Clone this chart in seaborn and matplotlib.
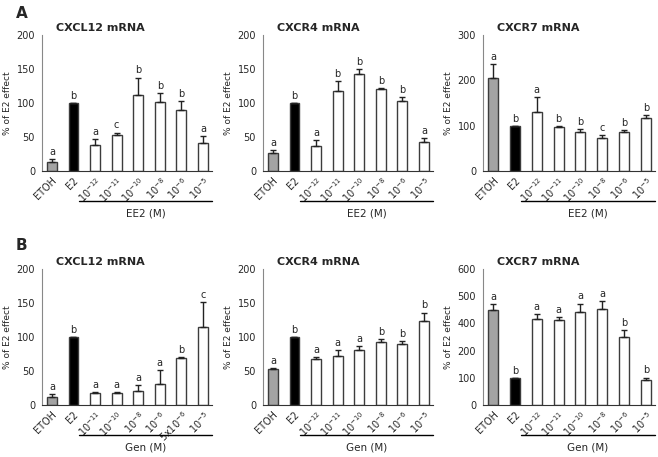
import numpy as np
import pandas as pd
import seaborn as sns
import matplotlib.pyplot as plt

# -----------------------------------------------------------------------------
# Data (% of E2 effect, mean and upper SEM)
# -----------------------------------------------------------------------------
EE2_DOSES = ["ETOH", "E2", r"$10^{-12}$", r"$10^{-11}$", r"$10^{-10}$",
             r"$10^{-8}$", r"$10^{-6}$", r"$10^{-5}$"]
GEN_DOSES_CXCL12 = ["ETOH", "E2", r"$10^{-11}$", r"$10^{-10}$", r"$10^{-8}$",
                    r"$10^{-6}$", r"5x$10^{-6}$", r"$10^{-5}$"]
GEN_DOSES = EE2_DOSES

A_CXCL12_MEAN = [13, 100, 38, 52.5, 112.5, 101.5, 90, 41.5]
A_CXCL12_SEM = [5, 0, 9, 4, 25, 12.5, 13.5, 10]
A_CXCL12_LET = ["a", "b", "a", "c", "b", "b", "b", "a"]

A_CXCR4_MEAN = [26, 100, 37.5, 118, 142, 121, 103, 42.5]
A_CXCR4_SEM = [5, 0, 7.5, 14, 8.5, 1.5, 6, 6.5]
A_CXCR4_LET = ["a", "b", "a", "b", "b", "b", "b", "a"]

A_CXCR7_MEAN = [206, 100, 130, 96.5, 86, 72, 85, 116]
A_CXCR7_SEM = [29, 0, 33, 2, 6, 7.5, 6, 8]
A_CXCR7_LET = ["a", "b", "a", "b", "b", "c", "b", "b"]

B_CXCL12_MEAN = [11.5, 100, 17.5, 17, 21, 31, 69, 115]
B_CXCL12_SEM = [5, 0, 2, 2.5, 8.5, 20, 1, 36]
B_CXCL12_LET = ["a", "b", "a", "a", "a", "a", "b", "c"]

B_CXCR4_MEAN = [52.5, 100, 67, 72, 81, 92, 89, 124]
B_CXCR4_SEM = [1.5, 0, 4, 9, 6, 5, 5, 12]
B_CXCR4_LET = ["a", "b", "a", "a", "a", "b", "b", "b"]

B_CXCR7_MEAN = [350, 100, 315, 311, 343, 352, 250, 92]
B_CXCR7_SEM = [22, 0, 18, 12, 30, 29, 24, 9]
B_CXCR7_LET = ["a", "b", "a", "a", "a", "a", "b", "b"]

# y-axis tick values / labels (the original B CXCR7 axis is labelled as printed)
TICKS_200 = [0, 50, 100, 150, 200]
TICKS_300 = [0, 100, 200, 300]
TICKS_B7 = [0, 100, 200, 300, 400, 500]
TICKLABELS_B7 = ["0", "100", "200", "400", "500", "600"]

# -----------------------------------------------------------------------------
# Helpers
# -----------------------------------------------------------------------------
FILL = {0: "#a3a3a3", 1: "black"}


def draw_panel(fig, rect, title, doses, means, sems, letters, ticks,
               ticklabels, group):
    ax = fig.add_axes(rect)
    df = pd.DataFrame({"dose": doses, "mean": means})
    pal = {d: FILL.get(i, "white") for i, d in enumerate(doses)}
    sns.barplot(data=df, x="dose", y="mean", hue="dose", order=doses,
                palette=pal, legend=False, width=0.46, ax=ax,
                edgecolor="#3c3c3c", linewidth=1)
    x = np.arange(len(doses))
    ax.errorbar(x, means, yerr=[np.zeros(len(sems)), sems], fmt="none",
                ecolor="#222222", elinewidth=1, capsize=2.5, capthick=1)
    for xi, m, s, let in zip(x, means, sems, letters):
        ax.annotate(let, (xi, m + s), xytext=(0, 1.5),
                    textcoords="offset points", ha="center", va="bottom",
                    fontsize=7)

    ax.set_xlim(-0.46, 7.42)
    ax.set_ylim(ticks[0], ticks[-1])
    ax.set_yticks(ticks)
    ax.set_yticklabels(ticklabels if ticklabels else [str(t) for t in ticks],
                       fontsize=7)
    ax.set_xticks(x)
    ax.set_xticklabels(doses, rotation=45, ha="right",
                       rotation_mode="anchor", fontsize=7)
    ax.tick_params(axis="x", length=0, pad=3)
    ax.tick_params(axis="y", length=3, width=1, color="#888888", pad=2)
    ax.set_xlabel("")
    ax.set_ylabel("% of E2 effect", fontsize=6.5, labelpad=3)

    for side in ["top", "right"]:
        ax.spines[side].set_visible(False)
    ax.spines["left"].set_color("#888888")
    ax.spines["bottom"].set_color("#333333")

    ax.text(0.08, 1.05, title, transform=ax.transAxes, fontsize=8,
            fontweight="bold", ha="left", va="center")

    # dose group bracket under the tick labels
    ax.plot([0.22, 1.0], [-0.22, -0.22], transform=ax.transAxes,
            color="black", lw=1, clip_on=False)
    ax.text(0.61, -0.31, group, transform=ax.transAxes, fontsize=7.5,
            ha="center", va="center")
    return ax


# -----------------------------------------------------------------------------
# Figure
# -----------------------------------------------------------------------------
sns.set_style("white")
plt.rcParams["font.family"] = ["DejaVu Sans"]

fig = plt.figure(figsize=(6.58, 4.57), dpi=100)

W, H = 658.0, 457.0
LEFTS = [42, 263, 483]
WIDTHS = [170, 170, 172]
ROW_BOTTOMS = [171, 405]
AX_H = 136

panels = [
    ("CXCL12 mRNA", EE2_DOSES, A_CXCL12_MEAN, A_CXCL12_SEM, A_CXCL12_LET,
     TICKS_200, None, "EE2 (M)"),
    ("CXCR4 mRNA", EE2_DOSES, A_CXCR4_MEAN, A_CXCR4_SEM, A_CXCR4_LET,
     TICKS_200, None, "EE2 (M)"),
    ("CXCR7 mRNA", EE2_DOSES, A_CXCR7_MEAN, A_CXCR7_SEM, A_CXCR7_LET,
     TICKS_300, None, "EE2 (M)"),
    ("CXCL12 mRNA", GEN_DOSES_CXCL12, B_CXCL12_MEAN, B_CXCL12_SEM,
     B_CXCL12_LET, TICKS_200, None, "Gen (M)"),
    ("CXCR4 mRNA", GEN_DOSES, B_CXCR4_MEAN, B_CXCR4_SEM, B_CXCR4_LET,
     TICKS_200, None, "Gen (M)"),
    ("CXCR7 mRNA", GEN_DOSES, B_CXCR7_MEAN, B_CXCR7_SEM, B_CXCR7_LET,
     TICKS_B7, TICKLABELS_B7, "Gen (M)"),
]

for i, p in enumerate(panels):
    row, col = divmod(i, 3)
    rect = [LEFTS[col] / W, 1 - ROW_BOTTOMS[row] / H, WIDTHS[col] / W, AX_H / H]
    draw_panel(fig, rect, *p)

fig.text(16 / W, 1 - 13 / H, "A", fontsize=11, fontweight="bold",
         ha="left", va="center")
fig.text(16 / W, 1 - 245 / H, "B", fontsize=11, fontweight="bold",
         ha="left", va="center")

fig.savefig("out.png", dpi=100)
